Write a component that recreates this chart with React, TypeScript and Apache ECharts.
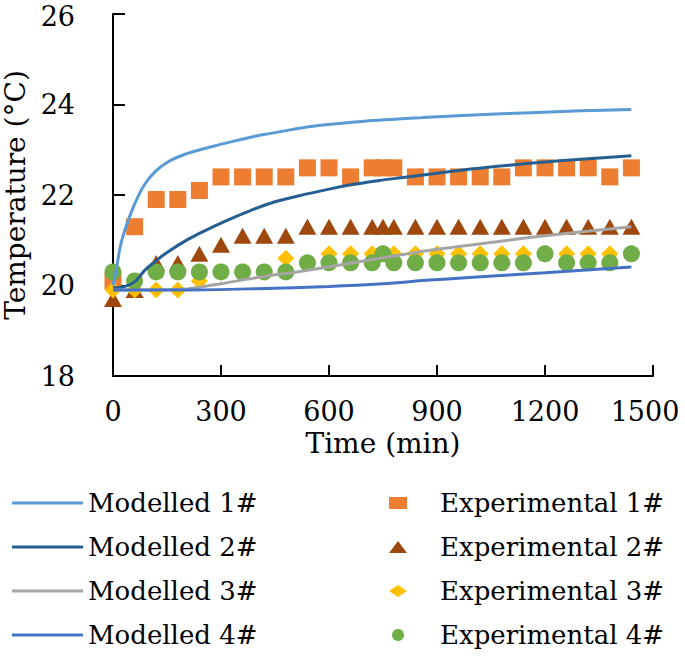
import React, { useEffect, useRef } from "react";
import * as echarts from "echarts";

// Modelled curves (time in min, temperature in °C)
const mt1 = [0, 10, 20, 30, 45, 60, 85, 115, 150, 200, 265, 330, 415, 500, 565, 700, 860, 1000, 1160, 1300, 1440];
const m1 = [20.0, 20.4, 20.85, 21.15, 21.5, 21.8, 22.2, 22.5, 22.72, 22.9, 23.05, 23.18, 23.33, 23.45, 23.53, 23.63, 23.71, 23.77, 23.82, 23.86, 23.89];

const mt2 = [0, 30, 60, 90, 120, 150, 200, 240, 300, 380, 450, 520, 600, 650, 740, 800, 900, 1000, 1100, 1200, 1300, 1440];
const m2 = [19.95, 19.97, 20.08, 20.35, 20.55, 20.73, 20.98, 21.15, 21.38, 21.65, 21.85, 21.99, 22.13, 22.21, 22.32, 22.38, 22.48, 22.58, 22.66, 22.73, 22.79, 22.87];

const mt3 = [0, 100, 200, 240, 300, 420, 510, 650, 850, 1000, 1200, 1440];
const m3 = [19.9, 19.9, 19.92, 19.96, 20.04, 20.2, 20.3, 20.48, 20.74, 20.9, 21.1, 21.3];

const mt4 = [0, 200, 400, 600, 750, 880, 1000, 1200, 1440];
const m4 = [19.9, 19.9, 19.93, 19.98, 20.04, 20.12, 20.18, 20.28, 20.41];

// Experimental measurements
const times = [0, 60, 120, 180, 240, 300, 360, 420, 480, 540, 600, 660, 720, 750, 780, 840, 900, 960, 1020, 1080, 1140, 1200, 1260, 1320, 1380, 1440];
const e1 = [20.1, 21.3, 21.9, 21.9, 22.1, 22.4, 22.4, 22.4, 22.4, 22.6, 22.6, 22.4, 22.6, 22.6, 22.6, 22.4, 22.4, 22.4, 22.4, 22.4, 22.6, 22.6, 22.6, 22.6, 22.4, 22.6];
const e2 = [19.7, 19.9, 20.5, 20.5, 20.7, 20.9, 21.1, 21.1, 21.1, 21.3, 21.3, 21.3, 21.3, 21.3, 21.3, 21.3, 21.3, 21.3, 21.3, 21.3, 21.3, 21.3, 21.3, 21.3, 21.3, 21.3];
const e3 = [19.9, 19.9, 19.9, 19.9, 20.1, 20.3, 20.3, 20.3, 20.6, 20.5, 20.7, 20.7, 20.7, 20.7, 20.7, 20.7, 20.7, 20.7, 20.7, 20.7, 20.7, 20.7, 20.7, 20.7, 20.7, 20.7];
const e4 = [20.3, 20.1, 20.3, 20.3, 20.3, 20.3, 20.3, 20.3, 20.3, 20.5, 20.5, 20.5, 20.5, 20.7, 20.5, 20.5, 20.5, 20.5, 20.5, 20.5, 20.5, 20.7, 20.5, 20.5, 20.5, 20.7];

const modelNames = ["Modelled 1#", "Modelled 2#", "Modelled 3#", "Modelled 4#"];
const expNames = ["Experimental 1#", "Experimental 2#", "Experimental 3#", "Experimental 4#"];
const xTicks = { min: 0, max: 1500, interval: 300 };
const yTicks = { min: 18, max: 26, interval: 2 };

const FONT = "DejaVu Serif";

const zip = (xs: number[], ys: number[]) => xs.map((x, i) => [x, ys[i]]);

export default function App() {
  const ref = useRef<HTMLDivElement>(null);
  useEffect(() => {
    if (!ref.current) return;
    const chart = echarts.init(ref.current, null, { renderer: "svg" });
    const modelColors = ["#5B9BD5", "#255E91", "#A5A5A5", "#4472C4"];
    const expColors = ["#ED7D31", "#9E480E", "#FFC000", "#70AD47"];
    const expSymbols = ["rect", "triangle", "diamond", "circle"];
    const modelData = [zip(mt1, m1), zip(mt2, m2), zip(mt3, m3), zip(mt4, m4)];
    const expData = [e1, e2, e3, e4].map((e) => zip(times, e));
    const axisLine = { lineStyle: { color: "#000", width: 2 } };
    const labelStyle = { color: "#000", fontFamily: FONT, fontSize: 27 };
    const legendBase = {
      orient: "vertical" as const,
      top: 488,
      height: 170,
      padding: 0,
      itemGap: 14,
      textStyle: { color: "#000", fontFamily: FONT, fontSize: 26, lineHeight: 30 },
    };
    chart.setOption({
      animation: false,
      grid: {
        left: 113,
        right: 32,
        top: 14,
        bottom: 281,
        containLabel: false,
        outerBoundsMode: "none",
      },
      xAxis: {
        type: "value",
        ...xTicks,
        name: "Time (min)",
        nameLocation: "middle",
        nameGap: 50,
        nameTextStyle: { ...labelStyle, fontSize: 28 },
        axisLine,
        axisTick: { show: true, inside: true, length: 11, lineStyle: { color: "#000", width: 2 } },
        axisLabel: {
          ...labelStyle,
          margin: 22,
          lineHeight: 26,
          formatter: (v: number) => (v === xTicks.max ? `{last|${v}}` : String(v)),
          rich: { last: { ...labelStyle, padding: [0, 16, 0, 0] } },
        },
        splitLine: { show: false },
      },
      yAxis: {
        type: "value",
        ...yTicks,
        name: "Temperature (°C)",
        nameLocation: "middle",
        nameGap: 72,
        nameTextStyle: { ...labelStyle, fontSize: 28, lineHeight: 28 },
        axisLine: { show: true, ...axisLine },
        axisTick: { show: true, inside: true, length: 12, lineStyle: { color: "#000", width: 2 } },
        axisLabel: {
          ...labelStyle,
          margin: 38,
          lineHeight: 24,
          formatter: (v: number) => (v === yTicks.max ? `{top|${v}}` : String(v)),
          rich: { top: { ...labelStyle, padding: [4, 0, 0, 0] } },
        },
        splitLine: { show: false },
      },
      legend: [
        {
          ...legendBase,
          left: 12,
          data: modelNames.map((name) => ({ name, icon: "rect" })),
          itemWidth: 71,
          itemHeight: 3,
        },
        {
          ...legendBase,
          left: 389,
          data: expNames,
          itemWidth: 18,
          itemHeight: 12,
          textStyle: { ...legendBase.textStyle, padding: [0, 0, 0, 28] },
        },
      ],
      series: [
        ...modelNames.map((name, i) => ({
          name,
          type: "line",
          data: modelData[i],
          smooth: 0.3,
          symbol: "none",
          lineStyle: { color: modelColors[i], width: 3 },
          itemStyle: { color: modelColors[i] },
        })),
        ...expNames.map((name, i) => ({
          name,
          type: "scatter",
          data: expData[i],
          symbol: expSymbols[i],
          symbolSize: i === 1 ? [18, 16] : 17,
          itemStyle: { color: expColors[i], opacity: 1 },
        })),
      ],
    });
    return () => chart.dispose();
  }, []);
  return <div ref={ref} style={{ width: 685, height: 657, position: "absolute", left: 0, top: 0 }} />;
}
